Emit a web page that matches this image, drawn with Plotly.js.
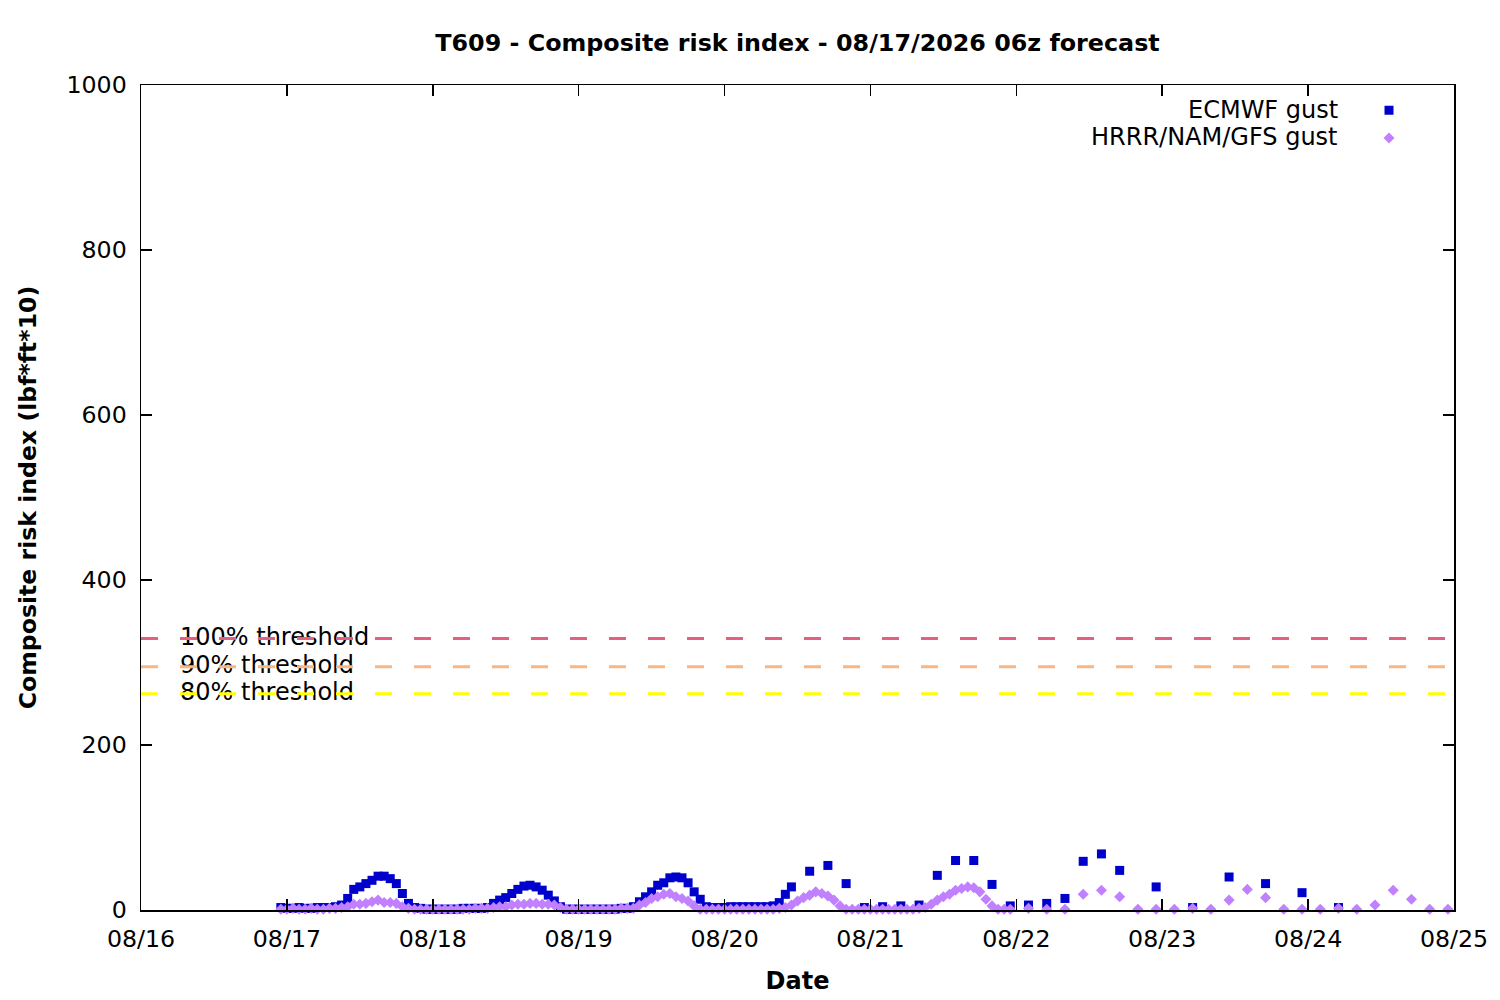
<!DOCTYPE html>
<html>
<head>
<meta charset="utf-8">
<script src="https://cdn.plot.ly/plotly-3.0.1.min.js"></script>
<style>
  html, body { margin: 0; padding: 0; background: #fff; }
  #chart { width: 1500px; height: 1000px; }
</style>
</head>
<body>
<div id="chart"></div>
<script>
// ---- data (hours after 2026-08-16 23:00 local) ----
const startTime = Date.UTC(2026, 7, 16, 23, 0);

const ecmwfHours = [
  0,1,2,3,4,5,6,7,8,9,10,11,12,13,14,15,16,17,18,19,20,21,22,23,24,25,26,27,28,29,
  30,31,32,33,34,35,36,37,38,39,40,41,42,43,44,45,46,47,48,49,50,51,52,53,54,55,56,57,58,59,
  60,61,62,63,64,65,66,67,68,69,70,71,72,73,74,75,76,77,78,79,80,81,82,83,84,
  87,90,93,96,99,102,105,108,111,114,117,120,123,126,129,132,135,138,
  144,150,156,162,168,174
];
const ecmwfValues = [
  3,2,2,3,2,2,3,3,3,
  4,6,14,25,28,32,36,41,41,38,32,20,8,3,
  2,1,1,1,1,1,1,2,2,2,2,
  3,8,12,15,20,25,29,30,28,24,18,11,4,
  1,1,1,1,1,1,1,1,1,2,2,
  4,10,16,22,30,33,39,40,39,33,22,13,4,
  3,3,3,4,4,4,4,4,4,
  4,5,9,19,28,
  47,54,32,3,4,5,6,42,60,60,31,5,6,8,14,59,68,48,
  28,3,40,32,21,3
];

const hrrrHours = [
  0,1,2,3,4,5,6,7,8,9,10,11,12,13,14,15,16,17,18,19,20,21,22,23,24,25,26,27,28,29,
  30,31,32,33,34,35,36,37,38,39,40,41,42,43,44,45,46,47,48,49,50,51,52,53,54,55,56,57,58,59,
  60,61,62,63,64,65,66,67,68,69,70,71,72,73,74,75,76,77,78,79,80,81,82,83,84,85,86,87,88,89,
  90,91,92,93,94,95,96,97,98,99,100,101,102,103,104,105,106,107,108,109,110,111,112,113,114,115,116,117,118,119,120,
  123,126,129,132,135,138,141,144,147,150,153,156,159,162,165,168,171,174,177,180,183,186,189,192
];
const hrrrValues = [
  1,1,2,1,1,2,1,1,2,2,
  3,4,7,7,8,10,12,9,9,8,4,2,1,
  1,1,1,1,1,1,1,1,1,2,2,
  2,3,4,4,6,7,7,8,8,7,7,6,3,1,
  1,1,1,1,1,1,1,1,2,2,
  2,6,9,14,16,19,20,16,14,11,5,1,
  1,1,1,1,1,1,1,1,1,1,1,1,2,
  3,6,11,15,18,22,20,17,12,5,1,
  1,1,1,1,1,1,1,1,1,1,1,2,
  3,7,12,16,19,24,26,28,27,22,13,5,1,1,1,
  2,1,1,19,24,16,1,1,1,2,1,12,25,15,1,1,1,2,1,6,24,13,1,1
];

const seriesNames = ["ECMWF gust", "HRRR/NAM/GFS gust"];
const thresholdLabels = ["100% threshold", "90% threshold", "80% threshold"];
const thresholdValues = [329, 295, 262];
const thresholdColors = ["#e5607f", "#f7b684", "#ffff00"];
const chartTitle = "T609 - Composite risk index - 08/17/2026 06z forecast";
const xTitle = "Date";
const yTitle = "Composite risk index (lbf*ft*10)";
const xRange = ["2026-08-16 00:00", "2026-08-25 00:00"];
const labelX = "2026-08-16 06:25";

function toStamp(h) {
  return new Date(startTime + h * 3600000).toISOString().slice(0, 16).replace("T", " ");
}

const FONT = "DejaVu Sans, sans-serif";
const FS = 24;

const traces = [
  {
    type: "scatter", mode: "text",
    x: thresholdValues.map(() => labelX),
    y: thresholdValues,
    text: thresholdLabels,
    textposition: "middle right",
    textfont: { family: FONT, size: FS, color: "#000" },
    hoverinfo: "skip", showlegend: false, cliponaxis: false
  },
  {
    type: "scatter", mode: "markers", name: " ",
    x: ecmwfHours.map(toStamp), y: ecmwfValues,
    marker: { symbol: "square", size: 9, color: "#0000cc" },
    cliponaxis: false
  },
  {
    type: "scatter", mode: "markers", name: " ",
    x: hrrrHours.map(toStamp), y: hrrrValues,
    marker: { symbol: "diamond", size: 8.5, color: "#c080ff" },
    cliponaxis: false
  }
];

const shapes = thresholdValues.map((v, i) => ({
  type: "line", xref: "paper", x0: 0, x1: 1, yref: "y", y0: v, y1: v,
  line: { color: thresholdColors[i], width: 3, dash: "17px,22px" },
  layer: "above"
}));

const annotations = seriesNames.map((n, i) => ({
  xref: "paper", yref: "paper",
  x: (1340 - 141) / 1313, y: 1 - ((110 + i * 27.5) - 85) / 825,
  xanchor: "right", yanchor: "middle",
  text: n, showarrow: false,
  font: { family: FONT, size: FS, color: "#000" }
}));

const axisCommon = {
  showline: true, linecolor: "#000", linewidth: 1.5, mirror: "ticks",
  ticks: "inside", ticklen: 11, tickwidth: 1.5, tickcolor: "#000",
  showgrid: false, zeroline: false,
  tickfont: { family: FONT, size: 23.7, color: "#000" }
};

const layout = {
  width: 1500, height: 1000,
  paper_bgcolor: "#fff", plot_bgcolor: "#fff",
  margin: { l: 141, r: 46, t: 85, b: 90 },
  font: { family: FONT, size: FS, color: "#000" },
  title: {
    text: "<b>" + chartTitle + "</b>",
    x: (797.5) / 1500, xanchor: "center", y: 1 - 43 / 1000, yanchor: "middle",
    font: { family: FONT, size: 23.8, color: "#000" }
  },
  xaxis: Object.assign({}, axisCommon, {
    type: "date", range: xRange, dtick: 86400000, tick0: "2026-08-16",
    tickformat: "%m/%d", ticklabelstandoff: 7,
    title: { text: "<b>" + xTitle + "</b>", standoff: 20, font: { family: FONT, size: FS, color: "#000" } }
  }),
  yaxis: Object.assign({}, axisCommon, {
    range: [0, 1000], dtick: 200, tick0: 0, ticklabelstandoff: 8,
    title: { text: "<b>" + yTitle + "</b>", standoff: 23, font: { family: FONT, size: 23.6, color: "#000" } }
  }),
  showlegend: true,
  legend: {
    x: (1369 - 141) / 1313, xanchor: "left",
    y: 1 - (91.5 - 85) / 825, yanchor: "top",
    bgcolor: "rgba(0,0,0,0)", borderwidth: 0,
    font: { family: FONT, size: 19, color: "#000" },
    itemwidth: 30, tracegroupgap: 0
  },
  shapes: shapes,
  annotations: annotations
};

Plotly.newPlot("chart", traces, layout, { staticPlot: true, displayModeBar: false });
</script>
</body>
</html>
